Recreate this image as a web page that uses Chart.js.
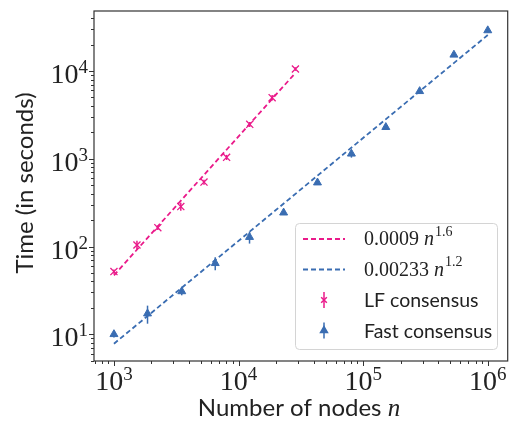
<!DOCTYPE html>
<html>
<head>
<meta charset="utf-8">
<script src="https://cdn.jsdelivr.net/npm/chart.js@4.4.1/dist/chart.umd.min.js"></script>
<style>
  html, body { margin:0; padding:0; background:#fff; }
  #wrap { width:514px; height:424px; }
</style>
</head>
<body>
<div id="wrap"><canvas id="c" width="514" height="424"></canvas></div>
<script>
// values
const lfNodes  = [1000, 1530, 2250, 3440, 5280, 8020, 12300, 18600, 28600];
const lfTime   = [51.8, 104, 164, 285, 542, 1038, 2467, 4966, 10540];
const lfErr    = [3, 12, 10, 30, 35, 70, 160, 350, 500];

const fastNodes = [1000, 1860, 3500, 6500, 12250, 23000, 43000, 80500, 152000, 284000, 535000, 1000000];
const fastTime  = [10, 17.2, 30.8, 64.5, 128, 243, 535, 1140, 2290, 5880, 15300, 29000];
const fastErr   = [0.8, 4, 3, 11, 20, 12, 30, 110, 110, 300, 800, 1500];

const lfFitNodes   = [1000, 28600];
const lfFitTime    = [47, 9500];
const fastFitNodes = [1000, 1000000];
const fastFitTime  = [7.8, 25700];

const xDecades = [3, 4, 5, 6];
const yDecades = [1, 2, 3, 4];

const PINK = '#ea1a8a', BLUE = '#3a6db2';
const SERIF = '"Liberation Serif", "DejaVu Serif", serif';
const SANS = 'Lato, "Open Sans", sans-serif';

const pts = (xs, ys) => xs.map((x, i) => ({ x, y: ys[i] }));

function powLabel(ctx, exp, x, y, align) {
  ctx.font = '28px ' + SERIF;
  const wb = ctx.measureText('10').width;
  ctx.font = '19px ' + SERIF;
  const we = ctx.measureText(String(exp)).width;
  const x0 = align === 'center' ? x - (wb + we) / 2 : x - wb - we;
  ctx.textAlign = 'left'; ctx.textBaseline = 'alphabetic';
  ctx.font = '28px ' + SERIF; ctx.fillText('10', x0, y);
  ctx.font = '19px ' + SERIF; ctx.fillText(String(exp), x0 + wb, y - 10);
}

function mathLabel(ctx, coef, exp, x, y) {
  ctx.textAlign = 'left'; ctx.textBaseline = 'middle';
  ctx.font = '20px ' + SERIF; ctx.fillText(coef + ' ', x, y);
  let cx = x + ctx.measureText(coef + ' ').width;
  ctx.font = 'italic 20px ' + SERIF; ctx.fillText('n', cx, y);
  cx += ctx.measureText('n').width + 1;
  ctx.font = '14px ' + SERIF; ctx.fillText(exp, cx, y - 8);
}

function errBars(ctx, sx, sy, xs, ys, es, color) {
  ctx.strokeStyle = color; ctx.lineWidth = 1.5;
  xs.forEach((n, i) => {
    const px = sx.getPixelForValue(n);
    ctx.beginPath();
    ctx.moveTo(px, sy.getPixelForValue(ys[i] + es[i]));
    ctx.lineTo(px, sy.getPixelForValue(Math.max(ys[i] - es[i], 1e-3)));
    ctx.stroke();
  });
}

const decor = {
  id: 'decor',
  beforeDatasetsDraw(chart) {
    const { ctx, scales: { x, y } } = chart;
    ctx.save();
    errBars(ctx, x, y, lfNodes, lfTime, lfErr, PINK);
    errBars(ctx, x, y, fastNodes, fastTime, fastErr, BLUE);
    ctx.restore();
  },
  afterDraw(chart) {
    const { ctx, chartArea: a, scales: { x, y } } = chart;
    ctx.save();
    // spines
    ctx.strokeStyle = '#333'; ctx.lineWidth = 1.2;
    ctx.strokeRect(a.left, a.top, a.right - a.left, a.bottom - a.top);
    // ticks
    ctx.lineWidth = 1;
    for (let d = 2; d <= 6; d++) for (let m = 1; m <= 9; m++) {
      const v = m * Math.pow(10, d);
      if (v < x.min || v > x.max) continue;
      const px = Math.round(x.getPixelForValue(v)) + 0.5, len = m === 1 ? 5 : 3;
      ctx.beginPath(); ctx.moveTo(px, a.bottom); ctx.lineTo(px, a.bottom + len); ctx.stroke();
    }
    for (let d = 0; d <= 4; d++) for (let m = 1; m <= 9; m++) {
      const v = m * Math.pow(10, d);
      if (v < y.min || v > y.max) continue;
      const py = Math.round(y.getPixelForValue(v)) + 0.5, len = m === 1 ? 5 : 3;
      ctx.beginPath(); ctx.moveTo(a.left, py); ctx.lineTo(a.left - len, py); ctx.stroke();
    }
    // tick labels
    ctx.fillStyle = '#222';
    xDecades.forEach(d => powLabel(ctx, d, x.getPixelForValue(Math.pow(10, d)), 390, 'center'));
    yDecades.forEach(d => powLabel(ctx, d, 88, y.getPixelForValue(Math.pow(10, d)) + 12, 'right'));
    // axis titles
    ctx.textBaseline = 'alphabetic'; ctx.textAlign = 'left';
    ctx.font = '24px ' + SANS;
    const t1 = 'Number of nodes ';
    const w1 = ctx.measureText(t1).width;
    ctx.font = 'italic 25px ' + SERIF;
    const w2 = ctx.measureText('n').width;
    const x0 = 299 - (w1 + w2) / 2;
    ctx.font = '24px ' + SANS; ctx.fillText(t1, x0, 416);
    ctx.font = 'italic 25px ' + SERIF; ctx.fillText('n', x0 + w1, 416);
    ctx.save();
    ctx.translate(33, 183); ctx.rotate(-Math.PI / 2);
    ctx.textAlign = 'center'; ctx.font = '24px ' + SANS;
    ctx.fillText('Time (in seconds)', 0, 0);
    ctx.restore();
    // legend
    ctx.beginPath();
    ctx.roundRect(295.5, 223.5, 202, 126, 4);
    ctx.fillStyle = 'rgba(255,255,255,0.85)'; ctx.fill();
    ctx.strokeStyle = '#d4d4d4'; ctx.lineWidth = 1; ctx.stroke();
    const rows = [239, 269.5, 300, 330.5];
    ctx.lineWidth = 1.8; ctx.setLineDash([5, 3]);
    [[PINK, rows[0]], [BLUE, rows[1]]].forEach(([c, ry]) => {
      ctx.strokeStyle = c; ctx.beginPath(); ctx.moveTo(303, ry); ctx.lineTo(345, ry); ctx.stroke();
    });
    ctx.setLineDash([]);
    ctx.fillStyle = '#222';
    mathLabel(ctx, '0.0009', '1.6', 364, rows[0] + 1);
    mathLabel(ctx, '0.00233', '1.2', 364, rows[1] + 1);
    [[PINK, rows[2], 'crossRot'], [BLUE, rows[3], 'triangle']].forEach(([c, ry, st]) => {
      ctx.strokeStyle = c; ctx.fillStyle = c; ctx.lineWidth = 1.5;
      ctx.beginPath(); ctx.moveTo(324, ry - 8); ctx.lineTo(324, ry + 8); ctx.stroke();
      Chart.helpers.drawPoint(ctx, { pointStyle: st, radius: 4, borderWidth: 1.3 }, 324, ry);
    });
    ctx.fillStyle = '#222'; ctx.font = '19.5px ' + SANS;
    ctx.textAlign = 'left'; ctx.textBaseline = 'middle';
    ctx.fillText('LF consensus', 364, rows[2] + 1);
    ctx.fillText('Fast consensus', 364, rows[3] + 1);
    ctx.restore();
  }
};

new Chart(document.getElementById('c'), {
  type: 'line',
  data: {
    datasets: [
      { label: '0.0009 n^1.6', data: pts(lfFitNodes, lfFitTime), borderColor: PINK, borderWidth: 1.8,
        borderDash: [5, 3], pointRadius: 0, fill: false, order: 3 },
      { label: '0.00233 n^1.2', data: pts(fastFitNodes, fastFitTime), borderColor: BLUE, borderWidth: 1.8,
        borderDash: [5, 3], pointRadius: 0, fill: false, order: 4 },
      { label: 'LF consensus', data: pts(lfNodes, lfTime), showLine: false, pointStyle: 'crossRot',
        pointRadius: 5, borderColor: PINK, backgroundColor: PINK, pointBorderWidth: 1.3, order: 1 },
      { label: 'Fast consensus', data: pts(fastNodes, fastTime), showLine: false, pointStyle: 'triangle',
        pointRadius: 4.6, borderColor: BLUE, backgroundColor: BLUE, pointBorderWidth: 1, order: 2 }
    ]
  },
  options: {
    responsive: false, animation: false, devicePixelRatio: 1,
    layout: { padding: { top: 11, right: 5, left: 0, bottom: 0 } },
    plugins: { legend: { display: false }, tooltip: { enabled: false } },
    scales: {
      x: { type: 'logarithmic', min: 691.8, max: 1445400,
        ticks: { display: false }, grid: { display: false }, border: { display: false },
        afterFit: s => { s.height = 63; } },
      y: { type: 'logarithmic', min: 4.96, max: 48300,
        ticks: { display: false }, grid: { display: false }, border: { display: false },
        afterFit: s => { s.width = 94; } }
    }
  },
  plugins: [decor]
});
</script>
</body>
</html>
